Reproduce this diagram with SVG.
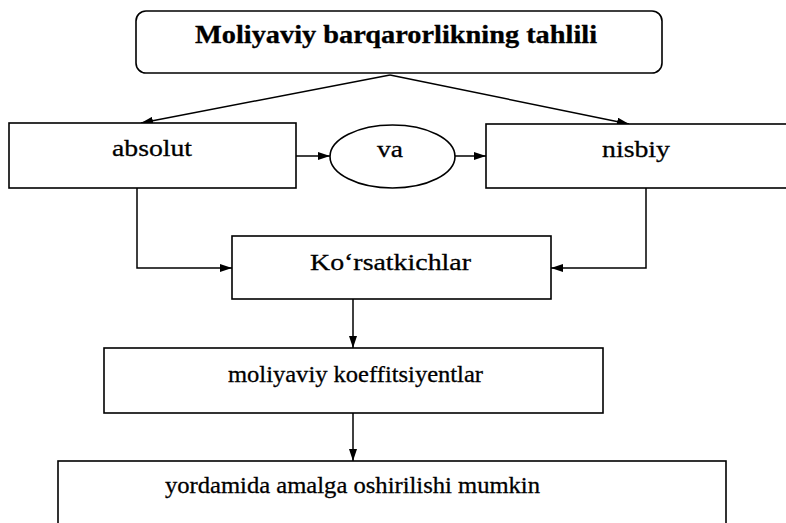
<svg xmlns="http://www.w3.org/2000/svg" width="786" height="523" viewBox="0 0 786 523">
<style>
.box{fill:#fff;stroke:#000;stroke-width:1.6}
.ln{fill:none;stroke:#000;stroke-width:1.5}
text{font-family:'Liberation Serif','Times New Roman',serif;font-size:24px;fill:#000;stroke:#000;stroke-width:0.3}
.b{font-weight:bold;font-size:25px}
</style>
<defs>
<marker id="ah" viewBox="0 0 12 8" refX="12" refY="4" markerWidth="12" markerHeight="8" markerUnits="userSpaceOnUse" orient="auto">
<path d="M0,0 L12,4 L0,8 Z" fill="#000"/>
</marker>
</defs>
<rect width="786" height="523" fill="#fff"/>
<g id="connectors">
<path class="ln" d="M390,75 L141,123" marker-end="url(#ah)"/>
<path class="ln" d="M390,75 L629,124" marker-end="url(#ah)"/>
<path class="ln" d="M296,156 L330,156" marker-end="url(#ah)"/>
<path class="ln" d="M455,156 L486,156" marker-end="url(#ah)"/>
<path class="ln" d="M137,188 L137,268 L232,268" marker-end="url(#ah)"/>
<path class="ln" d="M646,188 L646,268 L551,268" marker-end="url(#ah)"/>
<path class="ln" d="M353,299 L353,348" marker-end="url(#ah)"/>
<path class="ln" d="M353,413 L353,461" marker-end="url(#ah)"/>
</g>
<g id="title">
<rect class="box" x="136" y="11" width="526" height="62" rx="10"/>
<text class="b" x="195" y="43" textLength="402" lengthAdjust="spacingAndGlyphs">Moliyaviy barqarorlikning tahlili</text>
</g>
<g id="absolut">
<rect class="box" x="9" y="123" width="287" height="65"/>
<text x="112" y="156" textLength="80" lengthAdjust="spacingAndGlyphs">absolut</text>
</g>
<g id="va">
<ellipse class="box" cx="392.5" cy="156.5" rx="62.5" ry="31.5"/>
<text x="377" y="157" textLength="26" lengthAdjust="spacingAndGlyphs">va</text>
</g>
<g id="nisbiy">
<rect class="box" x="486" y="124" width="310" height="64"/>
<text x="602" y="157" textLength="68" lengthAdjust="spacingAndGlyphs">nisbiy</text>
</g>
<g id="korsatkichlar">
<rect class="box" x="232" y="236" width="319" height="63"/>
<text x="310" y="270" textLength="161" lengthAdjust="spacingAndGlyphs">Ko‘rsatkichlar</text>
</g>
<g id="koeffitsiyentlar">
<rect class="box" x="104" y="348" width="499" height="65"/>
<text x="228" y="382" textLength="255" lengthAdjust="spacingAndGlyphs">moliyaviy koeffitsiyentlar</text>
</g>
<g id="yordamida">
<rect class="box" x="58" y="461" width="668" height="80"/>
<text x="165" y="493" textLength="375" lengthAdjust="spacingAndGlyphs">yordamida amalga oshirilishi mumkin</text>
</g>
</svg>
